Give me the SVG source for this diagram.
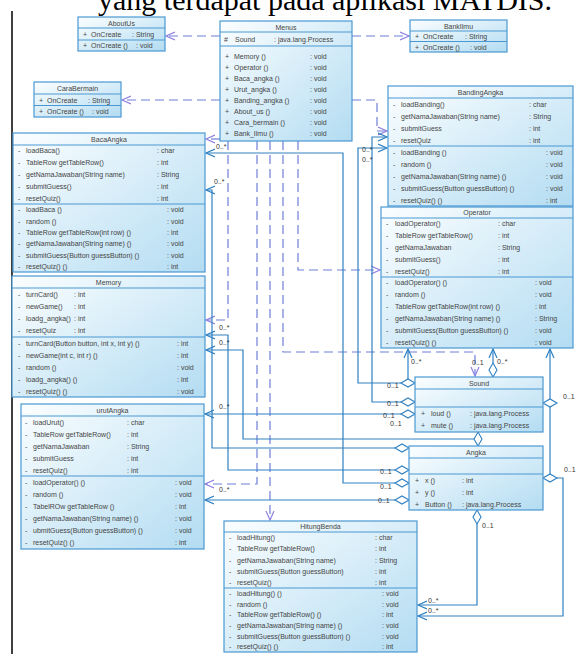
<svg xmlns="http://www.w3.org/2000/svg" xmlns:xlink="http://www.w3.org/1999/xlink" width="576" height="654" viewBox="0 0 576 654">
<style>
.box{fill:url(#g);stroke:#4a98d2;stroke-width:1.2}
.dv{stroke:#4a98d2;stroke-width:1}
text{font-family:"Liberation Sans",Arial,sans-serif;font-size:7px;fill:#454545}
.t{text-anchor:middle}
.c{fill:none;stroke:#2f80c2;stroke-width:1.2}
.d{fill:none;stroke:#6f7fd8;stroke-width:1.2;stroke-dasharray:9 5}
.dia{fill:#fff;stroke:#2f80c2;stroke-width:1.1}
.l{font-size:7px;fill:#333}
</style>
<defs>
<linearGradient id="g" x1="0" y1="0" x2="1" y2="1">
<stop offset="0" stop-color="#fbfeff"/>
<stop offset="1" stop-color="#b3dcf2"/>
</linearGradient>
<marker id="ab" markerUnits="userSpaceOnUse" markerWidth="11" markerHeight="10" refX="9" refY="5" orient="auto">
<path d="M0,1 L9,5 L0,9" fill="none" stroke="#2f80c2" stroke-width="1.2"/>
</marker>
<marker id="ap" markerUnits="userSpaceOnUse" markerWidth="11" markerHeight="10" refX="9" refY="5" orient="auto">
<path d="M0,1 L9,5 L0,9" fill="none" stroke="#8f80e0" stroke-width="1.2"/>
</marker>
<path id="dh" class="dia" d="M-7,0 L0,-4 L7,0 L0,4 Z"/>
<path id="dvv" class="dia" d="M0,-7 L4,0 L0,7 L-4,0 Z"/>
</defs>
<rect width="576" height="654" fill="#fff"/>
<text x="98" y="10" style="font-family:'Liberation Serif','Times New Roman',serif;font-size:30px;fill:#000">yang terdapat pada aplikasi MATDIS.</text>
<line x1="12" y1="11" x2="12" y2="654" stroke="#000" stroke-width="1.5"/>

<g id="connectors">
<path class="d" d="M220,36 H166" marker-end="url(#ap)"/>
<path class="d" d="M220,100 H122" marker-end="url(#ap)"/>
<path class="d" d="M352,36 H409" marker-end="url(#ap)"/>
<path class="d" d="M352,100 H377 V131 H387" marker-end="url(#ap)"/>
<path class="d" d="M220,139 H206" marker-end="url(#ap)"/>
<path class="d" d="M228,141 V320 H206" marker-end="url(#ap)"/>
<path class="d" d="M257,141 V484 H205" marker-end="url(#ap)"/>
<path class="d" d="M270,141 V520" marker-end="url(#ap)"/>
<path class="d" d="M283,141 V352 H475 V376" marker-end="url(#ap)"/>
<path class="d" d="M298,141 V270 H380" marker-end="url(#ap)"/>

<path class="c" d="M395,483 H343 V153 H206" marker-end="url(#ab)"/>
<path class="c" d="M395,448 H212 V190 H206" marker-end="url(#ab)"/>
<path class="c" d="M395,470 H228 V335 H206" marker-end="url(#ab)"/>
<path class="c" d="M474,439 H243 V350 H206" marker-end="url(#ab)"/>
<path class="c" d="M401,414 H205" marker-end="url(#ab)"/>
<path class="c" d="M395,500 H205" marker-end="url(#ab)"/>
<path class="c" d="M401,383 H358 V148 H387" marker-end="url(#ab)"/>
<path class="c" d="M401,402 H372 V137 H387" marker-end="url(#ab)"/>
<path class="c" d="M493,363 V349" marker-end="url(#ab)"/>
<path class="c" d="M408,379 V349" marker-end="url(#ab)"/>
<path class="c" d="M550,399 V349" marker-end="url(#ab)"/>
<path class="c" d="M550,407 V474"/>
<path class="c" d="M557,478 H563 V616 H418" marker-end="url(#ab)"/>
<path class="c" d="M477,524 V605 H418" marker-end="url(#ab)"/>

<use xlink:href="#dh" x="402" y="483"/>
<use xlink:href="#dh" x="402" y="448"/>
<use xlink:href="#dh" x="402" y="470"/>
<use xlink:href="#dh" x="402" y="500"/>
<use xlink:href="#dh" x="408" y="414"/>
<use xlink:href="#dh" x="408" y="383"/>
<use xlink:href="#dh" x="408" y="402"/>
<use xlink:href="#dh" x="550" y="403"/>
<use xlink:href="#dh" x="550" y="478"/>
<use xlink:href="#dvv" x="478" y="439"/>
<use xlink:href="#dvv" x="493" y="370"/>
<use xlink:href="#dvv" x="477" y="517"/>

<text class="l" x="216" y="149">0..*</text>
<text class="l" x="214" y="184">0..*</text>
<text class="l" x="362" y="152">0..*</text>
<text class="l" x="362" y="162">0..*</text>
<text class="l" x="219" y="330">0..*</text>
<text class="l" x="219" y="345">0..*</text>
<text class="l" x="219" y="409">0..*</text>
<text class="l" x="219" y="492">0..*</text>
<text class="l" x="411" y="364">0..*</text>
<text class="l" x="497" y="364">0..*</text>
<text class="l" x="472" y="365">0..1</text>
<text class="l" x="428" y="603">0..*</text>
<text class="l" x="428" y="613">0..*</text>
<text class="l" x="387" y="388">0..1</text>
<text class="l" x="387" y="406">0..1</text>
<text class="l" x="383" y="418">0..1</text>
<text class="l" x="390" y="426">0..1</text>
<text class="l" x="563" y="399">0..1</text>
<text class="l" x="564" y="472">0..1</text>
<text class="l" x="380" y="474">0..1</text>
<text class="l" x="380" y="489">0..1</text>
<text class="l" x="378" y="503">0..1</text>
<text class="l" x="482" y="528">0..1</text>
</g>

<g id="AboutUs">
<rect class="box" x="78" y="17" width="87" height="34"/>
<line class="dv" x1="78" y1="28" x2="165" y2="28"/>
<line class="dv" x1="78" y1="40" x2="165" y2="40"/>
<text class="t" x="121.5" y="25.5">AboutUs</text>
<text x="83" y="36.5">+</text><text x="91" y="36.5">OnCreate</text><text x="132" y="36.5">: String</text>
<text x="83" y="48">+</text><text x="91" y="48">OnCreate ()</text><text x="136" y="48">: void</text>
</g>

<g id="BankIlmu">
<rect class="box" x="410" y="20" width="97" height="32"/>
<line class="dv" x1="410" y1="31" x2="507" y2="31"/>
<line class="dv" x1="410" y1="41.5" x2="507" y2="41.5"/>
<text class="t" x="458.5" y="28.5">BankIlmu</text>
<text x="415" y="38.5">+</text><text x="423" y="38.5">OnCreate</text><text x="465" y="38.5">: String</text>
<text x="415" y="49.5">+</text><text x="423" y="49.5">OnCreate ()</text><text x="470" y="49.5">: void</text>
</g>

<g id="CaraBermain">
<rect class="box" x="34" y="82" width="87" height="35"/>
<line class="dv" x1="34" y1="94" x2="121" y2="94"/>
<line class="dv" x1="34" y1="105.5" x2="121" y2="105.5"/>
<text class="t" x="77.5" y="90.5">CaraBermain</text>
<text x="39" y="102.5">+</text><text x="47" y="102.5">OnCreate</text><text x="88" y="102.5">: String</text>
<text x="39" y="114">+</text><text x="47" y="114">OnCreate ()</text><text x="92" y="114">: void</text>
</g>

<g id="Menus">
<rect class="box" x="220" y="21" width="132" height="120"/>
<line class="dv" x1="220" y1="32" x2="352" y2="32"/>
<line class="dv" x1="220" y1="46" x2="352" y2="46"/>
<text class="t" x="286" y="29.5">Menus</text>
<text x="224" y="41.5">#</text><text x="235" y="41.5">Sound</text><text x="274" y="41.5">: java.lang.Process</text>
<text x="225" y="58.5">+</text><text x="234" y="58.5">Memory ()</text><text x="310" y="58.5">: void</text>
<text x="225" y="69.5">+</text><text x="234" y="69.5">Operator ()</text><text x="310" y="69.5">: void</text>
<text x="225" y="80.5">+</text><text x="234" y="80.5">Baca_angka ()</text><text x="310" y="80.5">: void</text>
<text x="225" y="91.5">+</text><text x="234" y="91.5">Urut_angka ()</text><text x="310" y="91.5">: void</text>
<text x="225" y="102.5">+</text><text x="234" y="102.5">Banding_angka ()</text><text x="310" y="102.5">: void</text>
<text x="225" y="113.5">+</text><text x="234" y="113.5">About_us ()</text><text x="310" y="113.5">: void</text>
<text x="225" y="124.5">+</text><text x="234" y="124.5">Cara_bermain ()</text><text x="310" y="124.5">: void</text>
<text x="225" y="135.5">+</text><text x="234" y="135.5">Bank_Ilmu ()</text><text x="310" y="135.5">: void</text>
</g>

<g id="BacaAngka">
<rect class="box" x="13" y="133" width="192" height="139"/>
<line class="dv" x1="13" y1="145" x2="205" y2="145"/>
<line class="dv" x1="13" y1="204" x2="205" y2="204"/>
<text class="t" x="109" y="141.5">BacaAngka</text>
<text x="18" y="153.4">-</text><text x="26" y="153.4">loadBaca()</text><text x="157" y="153.4">: char</text>
<text x="18" y="165.2">-</text><text x="26" y="165.2">TableRow getTableRow()</text><text x="157" y="165.2">: int</text>
<text x="18" y="177">-</text><text x="26" y="177">getNamaJawaban(String name)</text><text x="157" y="177">: String</text>
<text x="18" y="188.8">-</text><text x="26" y="188.8">submitGuess()</text><text x="157" y="188.8">: int</text>
<text x="18" y="200.6">-</text><text x="26" y="200.6">resetQuiz()</text><text x="157" y="200.6">: int</text>
<text x="18" y="212.2">-</text><text x="26" y="212.2">loadBaca ()</text><text x="167" y="212.2">: void</text>
<text x="18" y="223.5">-</text><text x="26" y="223.5">random ()</text><text x="167" y="223.5">: void</text>
<text x="18" y="234.8">-</text><text x="26" y="234.8">TableRow getTableRow(int row) ()</text><text x="167" y="234.8">: int</text>
<text x="18" y="246.2">-</text><text x="26" y="246.2">getNamaJawaban(String name) ()</text><text x="167" y="246.2">: void</text>
<text x="18" y="257.5">-</text><text x="26" y="257.5">submitGuess(Button guessButton) ()</text><text x="167" y="257.5">: void</text>
<text x="18" y="268.8">-</text><text x="26" y="268.8">resetQuiz() ()</text><text x="167" y="268.8">: int</text>
</g>

<g id="BandingAngka">
<rect class="box" x="388" y="86" width="185" height="120"/>
<line class="dv" x1="388" y1="98" x2="573" y2="98"/>
<line class="dv" x1="388" y1="146" x2="573" y2="146"/>
<text class="t" x="480.5" y="94.5">BandingAngka</text>
<text x="393" y="106.5">-</text><text x="401" y="106.5">loadBanding()</text><text x="529" y="106.5">: char</text>
<text x="393" y="118.5">-</text><text x="401" y="118.5">getNamaJawaban(String name)</text><text x="529" y="118.5">: String</text>
<text x="393" y="130.5">-</text><text x="401" y="130.5">submitGuess</text><text x="529" y="130.5">: int</text>
<text x="393" y="142.5">-</text><text x="401" y="142.5">resetQuiz</text><text x="529" y="142.5">: int</text>
<text x="393" y="154.5">-</text><text x="401" y="154.5">loadBanding ()</text><text x="546" y="154.5">: void</text>
<text x="393" y="166.5">-</text><text x="401" y="166.5">random ()</text><text x="546" y="166.5">: void</text>
<text x="393" y="178.5">-</text><text x="401" y="178.5">getNamaJawaban(String name) ()</text><text x="546" y="178.5">: void</text>
<text x="393" y="190.5">-</text><text x="401" y="190.5">submitGuess(Button guessButton) ()</text><text x="546" y="190.5">: void</text>
<text x="393" y="202.5">-</text><text x="401" y="202.5">resetQuiz() ()</text><text x="546" y="202.5">: int</text>
</g>

<g id="Operator">
<rect class="box" x="381" y="207" width="192" height="141"/>
<line class="dv" x1="381" y1="218" x2="573" y2="218"/>
<line class="dv" x1="381" y1="277" x2="573" y2="277"/>
<text class="t" x="477" y="215">Operator</text>
<text x="386" y="226.4">-</text><text x="395" y="226.4">loadOperator()</text><text x="498" y="226.4">: char</text>
<text x="386" y="238.2">-</text><text x="395" y="238.2">TableRow getTableRow()</text><text x="498" y="238.2">: int</text>
<text x="386" y="250">-</text><text x="395" y="250">getNamaJawaban</text><text x="498" y="250">: String</text>
<text x="386" y="261.8">-</text><text x="395" y="261.8">submitGuess()</text><text x="498" y="261.8">: int</text>
<text x="386" y="273.6">-</text><text x="395" y="273.6">resetQuiz()</text><text x="498" y="273.6">: int</text>
<text x="386" y="285.4">-</text><text x="395" y="285.4">loadOperator() ()</text><text x="535" y="285.4">: void</text>
<text x="386" y="297.2">-</text><text x="395" y="297.2">random ()</text><text x="535" y="297.2">: void</text>
<text x="386" y="309.1">-</text><text x="395" y="309.1">TableRow getTableRow(int row) ()</text><text x="535" y="309.1">: int</text>
<text x="386" y="320.9">-</text><text x="395" y="320.9">getNamaJawaban(String name) ()</text><text x="535" y="320.9">: String</text>
<text x="386" y="332.7">-</text><text x="395" y="332.7">submitGuess(Button guessButton) ()</text><text x="535" y="332.7">: void</text>
<text x="386" y="344.6">-</text><text x="395" y="344.6">resetQuiz() ()</text><text x="535" y="344.6">: void</text>
</g>

<g id="Memory">
<rect class="box" x="12" y="276" width="193" height="121"/>
<line class="dv" x1="12" y1="288" x2="205" y2="288"/>
<line class="dv" x1="12" y1="337" x2="205" y2="337"/>
<text class="t" x="108.5" y="284.5">Memory</text>
<text x="18" y="296.6">-</text><text x="26" y="296.6">turnCard()</text><text x="74" y="296.6">: int</text>
<text x="18" y="308.9">-</text><text x="26" y="308.9">newGame()</text><text x="74" y="308.9">: int</text>
<text x="18" y="321.1">-</text><text x="26" y="321.1">loadg_angka()</text><text x="74" y="321.1">: int</text>
<text x="18" y="333.4">-</text><text x="26" y="333.4">resetQuiz</text><text x="74" y="333.4">: int</text>
<text x="18" y="345.5">-</text><text x="26" y="345.5">turnCard(Button button, int x, int y) ()</text><text x="177" y="345.5">: int</text>
<text x="18" y="357.5">-</text><text x="26" y="357.5">newGame(int c, int r) ()</text><text x="177" y="357.5">: int</text>
<text x="18" y="369.5">-</text><text x="26" y="369.5">random ()</text><text x="177" y="369.5">: void</text>
<text x="18" y="381.5">-</text><text x="26" y="381.5">loadg_angka() ()</text><text x="177" y="381.5">: int</text>
<text x="18" y="393.5">-</text><text x="26" y="393.5">resetQuiz() ()</text><text x="177" y="393.5">: void</text>
</g>

<g id="urutAngka">
<rect class="box" x="21" y="404" width="183" height="145"/>
<line class="dv" x1="21" y1="416" x2="204" y2="416"/>
<line class="dv" x1="21" y1="476" x2="204" y2="476"/>
<text class="t" x="112.5" y="412.5">urutAngka</text>
<text x="25" y="424.5">-</text><text x="33" y="424.5">loadUrut()</text><text x="127" y="424.5">: char</text>
<text x="25" y="436.5">-</text><text x="33" y="436.5">TableRow getTableRow()</text><text x="127" y="436.5">: int</text>
<text x="25" y="448.5">-</text><text x="33" y="448.5">getNamaJawaban</text><text x="127" y="448.5">: String</text>
<text x="25" y="460.5">-</text><text x="33" y="460.5">submitGuess</text><text x="127" y="460.5">: int</text>
<text x="25" y="472.5">-</text><text x="33" y="472.5">resetQuiz()</text><text x="127" y="472.5">: int</text>
<text x="25" y="484.6">-</text><text x="33" y="484.6">loadOperator() ()</text><text x="175" y="484.6">: void</text>
<text x="25" y="496.8">-</text><text x="33" y="496.8">random ()</text><text x="175" y="496.8">: void</text>
<text x="25" y="508.9">-</text><text x="33" y="508.9">TabelROw getTableRow ()</text><text x="175" y="508.9">: int</text>
<text x="25" y="521.1">-</text><text x="33" y="521.1">getNamaJawaban(String name) ()</text><text x="175" y="521.1">: void</text>
<text x="25" y="533.3">-</text><text x="33" y="533.3">ubmitGuess(Button guessButton) ()</text><text x="175" y="533.3">: void</text>
<text x="25" y="545.4">-</text><text x="33" y="545.4">resetQuiz() ()</text><text x="175" y="545.4">: int</text>
</g>

<g id="Sound">
<rect class="box" x="415" y="377" width="128" height="55"/>
<line class="dv" x1="415" y1="389" x2="543" y2="389"/>
<line class="dv" x1="415" y1="407" x2="543" y2="407"/>
<text class="t" x="479" y="385.5">Sound</text>
<text x="421" y="415.8">+</text><text x="431" y="415.8">loud ()</text><text x="470" y="415.8">: java.lang.Process</text>
<text x="421" y="428.3">+</text><text x="431" y="428.3">mute ()</text><text x="470" y="428.3">: java.lang.Process</text>
</g>

<g id="Angka">
<rect class="box" x="409" y="446" width="134" height="64"/>
<line class="dv" x1="409" y1="458" x2="543" y2="458"/>
<line class="dv" x1="409" y1="474" x2="543" y2="474"/>
<text class="t" x="476" y="454.5">Angka</text>
<text x="415" y="482.5">+</text><text x="425" y="482.5">x ()</text><text x="462" y="482.5">: int</text>
<text x="415" y="494.5">+</text><text x="425" y="494.5">y ()</text><text x="462" y="494.5">: int</text>
<text x="415" y="506.5">+</text><text x="425" y="506.5">Button ()</text><text x="462" y="506.5">: java.lang.Process</text>
</g>

<g id="HitungBenda">
<rect class="box" x="224" y="521" width="193" height="131"/>
<line class="dv" x1="224" y1="532" x2="417" y2="532"/>
<line class="dv" x1="224" y1="588" x2="417" y2="588"/>
<text class="t" x="320.5" y="529">HitungBenda</text>
<text x="229" y="540.1">-</text><text x="237" y="540.1">loadHitung()</text><text x="375" y="540.1">: char</text>
<text x="229" y="551.3">-</text><text x="237" y="551.3">TableRow getTableRow()</text><text x="375" y="551.3">: int</text>
<text x="229" y="562.5">-</text><text x="237" y="562.5">getNamaJawaban(String name)</text><text x="375" y="562.5">: String</text>
<text x="229" y="573.7">-</text><text x="237" y="573.7">submitGuess(Button guessButton)</text><text x="375" y="573.7">: int</text>
<text x="229" y="584.9">-</text><text x="237" y="584.9">resetQuiz()</text><text x="375" y="584.9">: int</text>
<text x="229" y="595.8">-</text><text x="237" y="595.8">loadHitung() ()</text><text x="382" y="595.8">: void</text>
<text x="229" y="606.5">-</text><text x="237" y="606.5">random ()</text><text x="382" y="606.5">: void</text>
<text x="229" y="617.2">-</text><text x="237" y="617.2">TableRow getTableRow() ()</text><text x="382" y="617.2">: int</text>
<text x="229" y="627.8">-</text><text x="237" y="627.8">getNamaJawaban(String name) ()</text><text x="382" y="627.8">: void</text>
<text x="229" y="638.5">-</text><text x="237" y="638.5">submitGuess(Button guessButton) ()</text><text x="382" y="638.5">: void</text>
<text x="229" y="649.2">-</text><text x="237" y="649.2">resetQuiz() ()</text><text x="382" y="649.2">: int</text>
</g>
</svg>
